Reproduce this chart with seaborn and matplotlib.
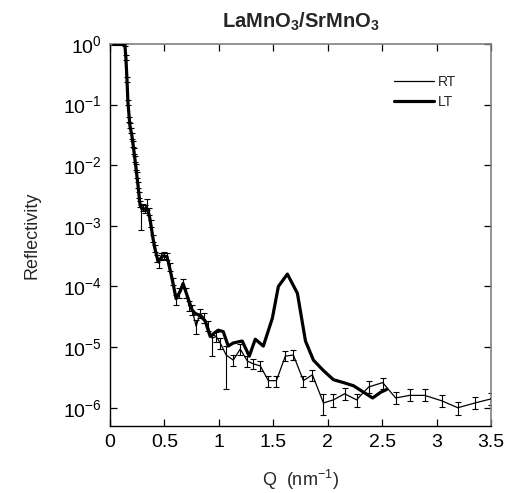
import numpy as np
import pandas as pd
import matplotlib
matplotlib.use("Agg")
import matplotlib.pyplot as plt
import seaborn as sns

# RT data (thin line with error bars)
q_rt = [0.037, 0.074, 0.11, 0.138, 0.147, 0.157, 0.166, 0.175, 0.184, 0.193,
        0.203, 0.212, 0.221, 0.230, 0.239, 0.249, 0.258, 0.267, 0.276, 0.285,
        0.304, 0.322, 0.341, 0.359, 0.378, 0.396, 0.414, 0.433, 0.451, 0.470,
        0.497, 0.525, 0.552, 0.580, 0.608, 0.635, 0.672, 0.700, 0.727, 0.755,
        0.792, 0.829, 0.866, 0.902, 0.939, 0.976, 1.013, 1.068, 1.133, 1.197,
        1.262, 1.317, 1.381, 1.455, 1.529, 1.611, 1.685, 1.777, 1.860, 1.961,
        2.053, 2.155, 2.265, 2.376, 2.505, 2.624, 2.753, 2.891, 3.048, 3.195,
        3.352, 3.50]
r_rt = [1.0, 1.0, 1.0, 0.96, 0.59, 0.26, 0.108, 0.057, 0.045, 0.037,
        0.030, 0.022, 0.017, 0.0126, 0.0093, 0.0069, 0.0047, 0.0032, 0.0023, 0.0019,
        0.0020, 0.0019, 0.0021, 0.0017, 0.00108, 0.00062, 0.00042, 0.00029, 0.00024, 0.00031,
        0.00032, 0.00031, 0.00021, 0.00012, 6.3e-5, 7.9e-5, 1.12e-4, 7.8e-5, 4.7e-5, 4.1e-5,
        2.2e-5, 3.6e-5, 3.0e-5, 2.2e-5, 1.4e-5, 1.5e-5, 1.17e-5, 7.4e-6, 6.1e-6, 9.3e-6,
        5.9e-6, 5.3e-6, 4.9e-6, 2.8e-6, 2.8e-6, 7.1e-6, 7.4e-6, 2.8e-6, 3.5e-6, 1.2e-6,
        1.35e-6, 1.7e-6, 1.35e-6, 2.2e-6, 2.6e-6, 1.45e-6, 1.6e-6, 1.6e-6, 1.3e-6, 1.0e-6,
        1.2e-6, 1.4e-6]
# error bar half widths in decades
err_dn = [0.02, 0.02, 0.02, 0.02, 0.04, 0.04, 0.04, 0.04, 0.04, 0.04,
          0.05, 0.05, 0.05, 0.05, 0.05, 0.05, 0.05, 0.05, 0.05, 0.35,
          0.06, 0.06, 0.06, 0.06, 0.06, 0.06, 0.06, 0.06, 0.08, 0.06,
          0.06, 0.06, 0.06, 0.06, 0.10, 0.08, 0.08, 0.08, 0.08, 0.08,
          0.12, 0.08, 0.08, 0.08, 0.30, 0.10, 0.10, 0.56, 0.10, 0.10,
          0.10, 0.08, 0.08, 0.10, 0.10, 0.08, 0.08, 0.10, 0.10, 0.20,
          0.12, 0.10, 0.12, 0.10, 0.10, 0.10, 0.10, 0.10, 0.10, 0.12,
          0.10, 0.10]
err_up = [0.02, 0.02, 0.02, 0.02, 0.04, 0.04, 0.04, 0.04, 0.04, 0.04,
          0.05, 0.05, 0.05, 0.05, 0.05, 0.05, 0.05, 0.05, 0.05, 0.06,
          0.06, 0.06, 0.12, 0.06, 0.06, 0.06, 0.06, 0.06, 0.06, 0.06,
          0.06, 0.06, 0.06, 0.06, 0.06, 0.08, 0.08, 0.08, 0.08, 0.08,
          0.10, 0.08, 0.08, 0.08, 0.05, 0.08, 0.08, 0.15, 0.08, 0.08,
          0.08, 0.08, 0.08, 0.08, 0.08, 0.08, 0.08, 0.08, 0.08, 0.14,
          0.10, 0.10, 0.10, 0.10, 0.08, 0.10, 0.10, 0.10, 0.10, 0.10,
          0.10, 0.10]

# LT data (thick line)
q_lt = [0.037, 0.074, 0.11, 0.138, 0.147, 0.157, 0.166, 0.184, 0.203, 0.221,
        0.239, 0.258, 0.276, 0.295, 0.322, 0.350, 0.368, 0.396, 0.414, 0.442,
        0.488, 0.525, 0.571, 0.608, 0.645, 0.672, 0.709, 0.755, 0.783, 0.829,
        0.875, 0.921, 0.958, 0.994, 1.041, 1.087, 1.133, 1.215, 1.280, 1.335,
        1.409, 1.492, 1.547, 1.630, 1.722, 1.796, 1.869, 1.961, 2.053, 2.145,
        2.238, 2.330, 2.413, 2.486, 2.541]
r_lt = [1.0, 1.0, 1.0, 0.96, 0.59, 0.26, 0.108, 0.045, 0.030, 0.017,
        0.0093, 0.0047, 0.0023, 0.0019, 0.0019, 0.0018, 0.0013, 0.00062, 0.00042, 0.00026,
        0.00032, 0.00031, 1.35e-4, 6.3e-5, 8.3e-5, 1.12e-4, 7.1e-5, 4.1e-5, 3.6e-5, 3.3e-5,
        2.7e-5, 1.5e-5, 1.7e-5, 1.9e-5, 1.8e-5, 1.04e-5, 1.17e-5, 1.26e-5, 7.1e-6, 1.35e-5,
        1.04e-5, 3.0e-5, 1.0e-4, 1.6e-4, 7.7e-5, 1.26e-5, 6.1e-6, 4.1e-6, 2.9e-6, 2.6e-6,
        2.3e-6, 1.8e-6, 1.45e-6, 1.8e-6, 2.0e-6]

sns.set_style("ticks")
plt.rcParams['font.family'] = ['Liberation Sans', 'DejaVu Sans']
plt.rcParams['mathtext.fontset'] = 'custom'
plt.rcParams['mathtext.rm'] = 'Liberation Sans'
plt.rcParams['mathtext.bf'] = 'Liberation Sans:bold'
plt.rcParams['mathtext.it'] = 'Liberation Sans:italic'
plt.rcParams['axes.unicode_minus'] = False

rt = pd.DataFrame({'Q': q_rt, 'R': r_rt})
lt = pd.DataFrame({'Q': q_lt, 'R': r_lt})

fig = plt.figure(figsize=(5.11, 4.93), dpi=100)
ax = fig.add_axes([0.215, 0.136, 0.746, 0.775])

r_arr = np.array(r_rt)
lo = r_arr - r_arr * 10 ** (-np.array(err_dn))
hi = r_arr * 10 ** np.array(err_up) - r_arr
ax.errorbar(rt['Q'], rt['R'], yerr=[lo, hi], fmt='none', ecolor='black',
            elinewidth=0.8, capsize=2.2, capthick=0.8, zorder=2)

sns.lineplot(data=rt, x='Q', y='R', ax=ax, color='black', lw=0.9,
             sort=False, estimator=None, label='RT', zorder=3)
sns.lineplot(data=lt, x='Q', y='R', ax=ax, color='black', lw=2.3,
             sort=False, estimator=None, label='LT', zorder=4)

ax.set_yscale('log')
ax.set_xlim(0, 3.5)
ax.set_ylim(10 ** -6.3, 1.0)
ax.set_xticks(np.arange(0, 3.51, 0.5))
ax.set_xticklabels(['0', '0.5', '1', '1.5', '2', '2.5', '3', '3.5'])
ax.set_yticks([1e-6, 1e-5, 1e-4, 1e-3, 1e-2, 1e-1, 1e0])
ax.minorticks_off()
ax.tick_params(direction='in', length=5, width=0.9, top=True, right=True,
               labelsize=14, pad=6, colors='black')
for side in ['top', 'right']:
    ax.spines[side].set_color('#808080')
    ax.spines[side].set_linewidth(1.2)
for side in ['left', 'bottom']:
    ax.spines[side].set_color('black')
    ax.spines[side].set_linewidth(1.0)

ax.set_xlabel('Q  (nm$^{-1}$)', fontsize=13, labelpad=12)
ax.set_ylabel('Reflectivity', fontsize=13, labelpad=16)
ax.set_title(r'LaMnO$_\mathbf{3}$/SrMnO$_\mathbf{3}$', fontsize=14.5,
             fontweight='bold', pad=12)

ax.legend(loc='upper left', bbox_to_anchor=(0.745, 0.918), frameon=False,
          fontsize=10, handlelength=2.9, handletextpad=0.3, labelspacing=0.4,
          borderpad=0, borderaxespad=0)

fig.savefig('out.png', dpi=100)
